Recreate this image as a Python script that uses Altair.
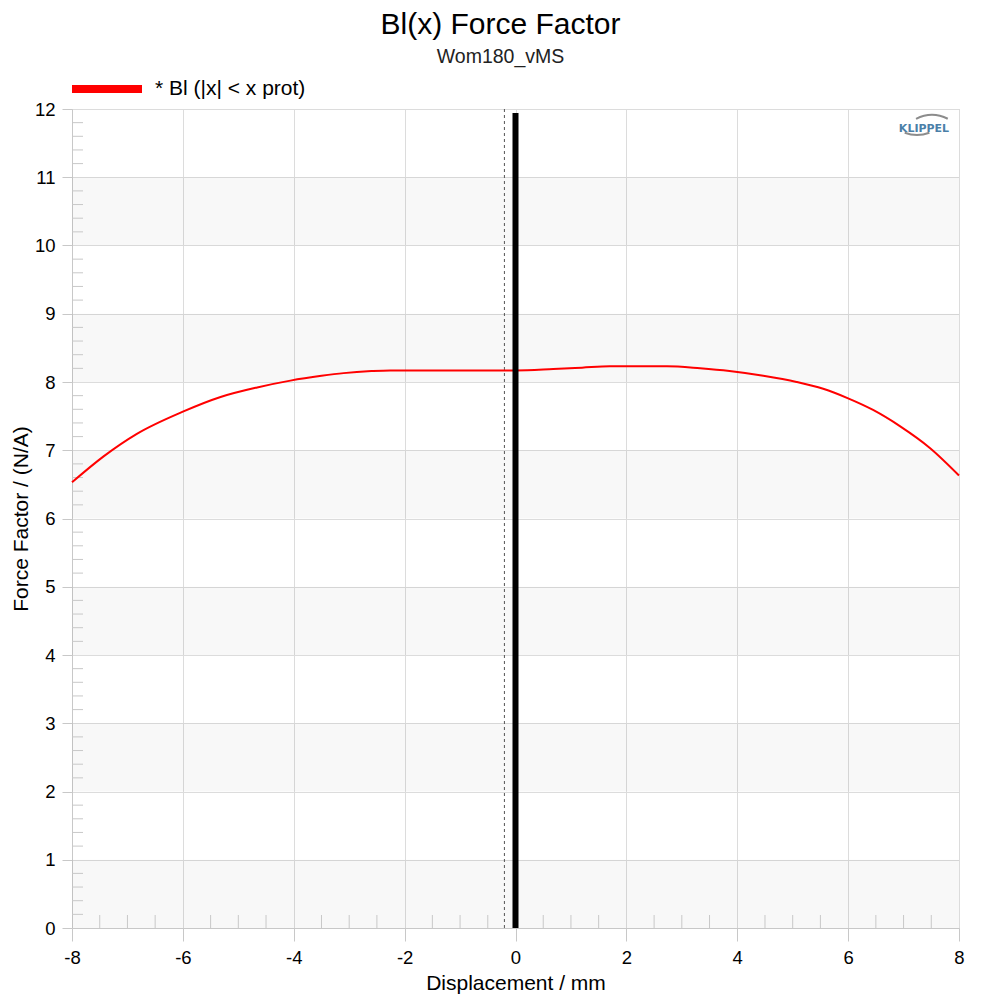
import altair as alt
import pandas as pd

# ---- data ----
x_mm = [-8.0, -7.43, -6.83, -6.0, -5.32, -4.66, -4.06, -3.5, -3.1, -2.6, -2.26, -1.0,
        0.0, 0.68, 1.2, 1.7, 2.73, 3.33, 3.86, 4.47, 5.07, 5.55, 6.0, 6.45, 6.94, 7.48, 8.0]
bl = [6.53, 6.91, 7.24, 7.565, 7.78, 7.92, 8.02, 8.09, 8.13, 8.16, 8.17, 8.17,
      8.17, 8.19, 8.21, 8.23, 8.23, 8.20, 8.16, 8.09, 8.00, 7.90, 7.76, 7.59, 7.35, 7.03, 6.63]
series_name = "* Bl (|x| < x prot)"

band_lo = [0, 2, 4, 6, 8, 10]
band_hi = [1, 3, 5, 7, 9, 11]

x_ticks = [-8, -6, -4, -2, 0, 2, 4, 6, 8]
y_ticks = list(range(0, 13))
x_minor = [v / 2 for v in range(-16, 17) if v % 4 != 0]
y_minor = [v / 5 for v in range(0, 61) if v % 5 != 0]

marker_x = [0.0]
marker_top = [11.94]
dash_x = [-0.2]

W, H = 887, 819
FONT = "Liberation Sans"
TICK_FS = 18.5
TITLE_FS = 21

xs = alt.Scale(domain=[-8, 8], nice=False, zero=False)
ys = alt.Scale(domain=[0, 12], nice=False, zero=False)

df = pd.DataFrame({"x": x_mm, "bl": bl, "series": series_name})
bands = pd.DataFrame({"lo": band_lo, "hi": band_hi})

band_layer = alt.Chart(bands).mark_rect(color="black", opacity=0.028).encode(
    x=alt.value(0), x2=alt.value(W),
    y=alt.Y("lo:Q", scale=ys), y2="hi:Q",
)

base_axes = alt.Chart(pd.DataFrame({"x": [0], "y": [0]})).mark_point(opacity=0).encode(
    x=alt.X("x:Q", scale=xs, title="Displacement / mm",
            axis=alt.Axis(values=x_ticks, labelExpr="'' + datum.value", labelFlush=False,
                          grid=True, gridColor="#dcdcdc", tickSize=13, tickColor="#c8c8c8",
                          domainColor="#c8c8c8", labelPadding=7, labelFontSize=TICK_FS,
                          titleFontSize=TITLE_FS, titleFontWeight="normal", titlePadding=6,
                          labelFont=FONT, titleFont=FONT, labelColor="black",
                          titleColor="black")),
    y=alt.Y("y:Q", scale=ys, title="Force Factor / (N/A)",
            axis=alt.Axis(values=y_ticks, labelExpr="'' + datum.value", labelFlush=False,
                          grid=True, gridColor="#dcdcdc", tickSize=10, tickColor="#c8c8c8",
                          domainColor="#c8c8c8", labelPadding=7, labelFontSize=TICK_FS,
                          titleFontSize=TITLE_FS, titleFontWeight="normal", titlePadding=3,
                          labelFont=FONT, titleFont=FONT, labelColor="black",
                          titleColor="black")),
)

xminor_layer = alt.Chart(pd.DataFrame({"x": x_minor})).mark_rule(color="#c8c8c8", strokeWidth=1).encode(
    x=alt.X("x:Q", scale=xs), y=alt.value(H), y2=alt.value(H - 13)
)
yminor_layer = alt.Chart(pd.DataFrame({"y": y_minor})).mark_rule(color="#c8c8c8", strokeWidth=1).encode(
    y=alt.Y("y:Q", scale=ys), x=alt.value(0), x2=alt.value(11)
)

dash_layer = alt.Chart(pd.DataFrame({"x": dash_x, "lo": [0], "hi": [12]})).mark_rule(
    color="#555555", strokeWidth=1, strokeDash=[3, 3]).encode(
    x=alt.X("x:Q", scale=xs), y=alt.Y("lo:Q", scale=ys), y2="hi:Q"
)

marker_layer = alt.Chart(pd.DataFrame({"x": marker_x, "lo": [0], "hi": marker_top})).mark_rule(
    color="black", strokeWidth=6).encode(
    x=alt.X("x:Q", scale=xs), y=alt.Y("lo:Q", scale=ys), y2="hi:Q"
)

color_scale = alt.Scale(domain=[series_name], range=["#ff0000"])

line_layer = alt.Chart(df).mark_line(strokeWidth=2, interpolate="monotone").encode(
    x=alt.X("x:Q", scale=xs),
    y=alt.Y("bl:Q", scale=ys),
    color=alt.Color("series:N", scale=color_scale, legend=None),
)

# legend drawn as a swatch + label above the plot
leg_df = pd.DataFrame({"series": [series_name]})
leg_swatch = alt.Chart(leg_df).mark_rule(strokeWidth=8).encode(
    x=alt.value(0), x2=alt.value(70), y=alt.value(-20),
    color=alt.Color("series:N", scale=color_scale, legend=None),
)
leg_label = alt.Chart(leg_df).mark_text(align="left", baseline="middle", fontSize=TITLE_FS,
                                        font=FONT, color="black").encode(
    x=alt.value(83), y=alt.value(-20), text="series:N"
)

logo_df = pd.DataFrame({"k": [0]})
logo_text = alt.Chart(logo_df).mark_text(text="KLIPPEL", font="DejaVu Sans", fontWeight="bold",
                                         fontSize=11, color="#4b7fa8").encode(
    x=alt.value(852), y=alt.value(20)
)
arc_up = alt.Chart(logo_df).mark_arc(color="#8c8c8c", theta=5.81, theta2=6.75,
                                     radius=36, radius2=34).encode(
    x=alt.value(860), y=alt.value(41)
)
arc_dn = alt.Chart(logo_df).mark_arc(color="#8c8c8c", theta=2.78, theta2=3.5,
                                     radius=36, radius2=34).encode(
    x=alt.value(845), y=alt.value(-9)
)

chart = alt.layer(
    band_layer, base_axes, xminor_layer, yminor_layer, dash_layer, line_layer,
    marker_layer, leg_swatch, leg_label, logo_text, arc_up, arc_dn
).properties(
    width=W, height=H,
    title=alt.TitleParams(text="Bl(x) Force Factor", subtitle="Wom180_vMS",
                          fontSize=30, subtitleFontSize=19.5, font=FONT, subtitleFont=FONT,
                          fontWeight="normal", anchor="middle", dx=-15, offset=12,
                          subtitlePadding=8, color="black", subtitleColor="#222222"),
    autosize=alt.AutoSizeParams(type="none"),
    padding={"left": 64, "top": 101, "right": 33, "bottom": 72},
).configure_view(stroke="#c8c8c8")

chart.save("out.html", embed_options={"renderer": "svg", "actions": False})
